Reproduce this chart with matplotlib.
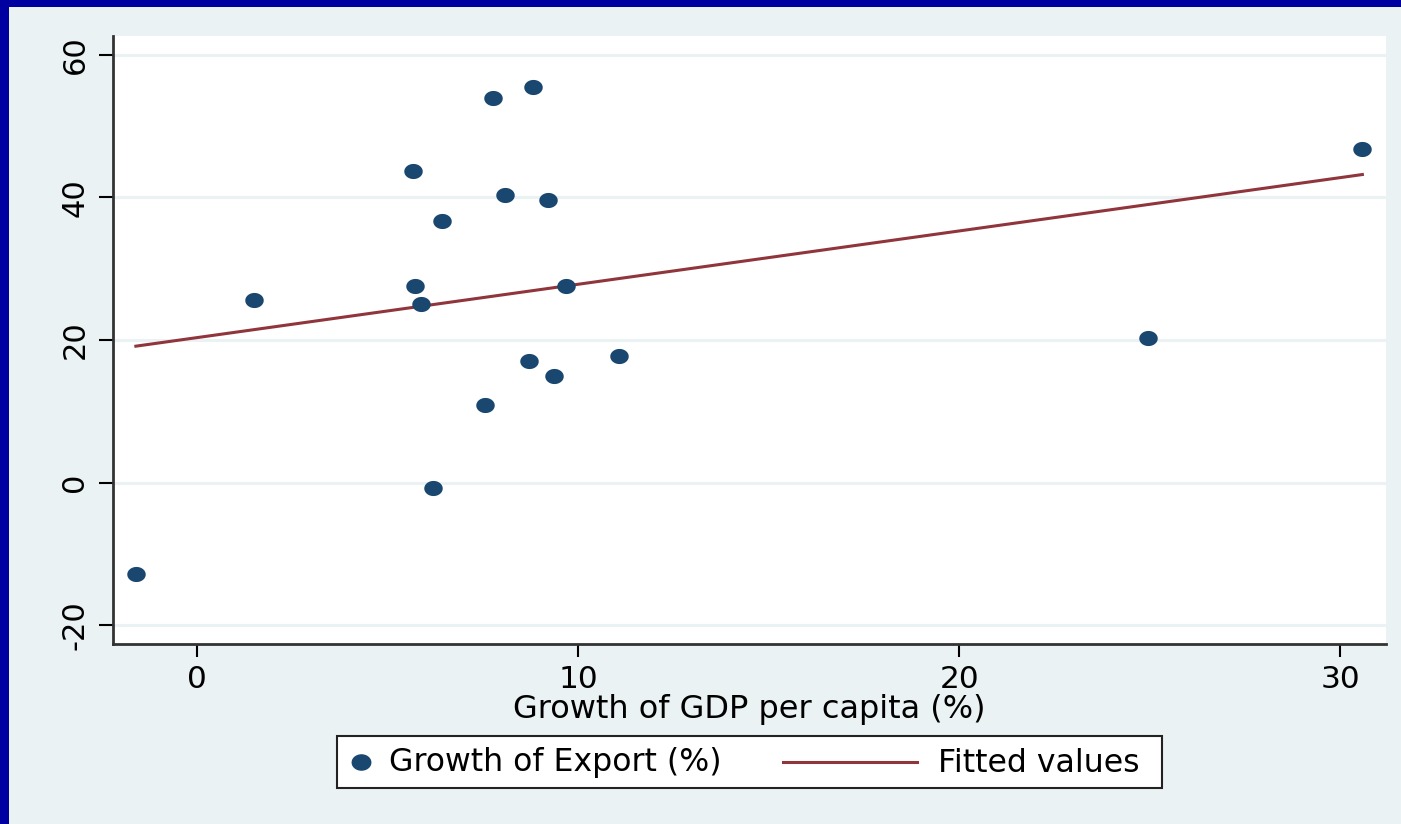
import numpy as np
import matplotlib
matplotlib.use("Agg")
import matplotlib.pyplot as plt
from matplotlib.path import Path
from matplotlib.patches import Rectangle
from matplotlib.lines import Line2D

plt.rcParams['font.family'] = ['DejaVu Sans']
plt.rcParams['axes.unicode_minus'] = False

# Growth of GDP per capita (%) vs growth of exports (%)
gdp_growth = [-1.60, 1.50, 5.67, 5.72, 5.88, 6.19, 6.43, 7.56, 7.77, 8.08,
              8.71, 8.82, 9.21, 9.37, 9.69, 11.08, 24.96, 30.58]
export_growth = [-12.75, 25.6, 43.7, 27.6, 25.1, -0.7, 36.7, 10.9, 53.9, 40.3,
                 17.1, 55.5, 39.6, 14.9, 27.5, 17.8, 20.3, 46.7]

x_ticks = [0, 10, 20, 30]
y_ticks = [-20, 0, 20, 40, 60]
x_label = "Growth of GDP per capita (%)"
series_labels = ["Growth of Export (%)", "Fitted values"]

NAVY = "#1a476f"
MAROON = "#90353b"
BG = "#eaf2f3"
FRAME = "#0000a0"

# Linear fit of exports on GDP growth
x = np.array(gdp_growth)
y = np.array(export_growth)
slope, intercept = np.polyfit(x, y, 1)
order = np.argsort(x)
fit_x = x[order]
fit_y = intercept + slope * fit_x

# Elliptical marker
t = np.linspace(0, 2 * np.pi, 64)
ellipse = Path(np.column_stack([1.22 * np.cos(t), np.sin(t)]), closed=True)

W, H = 1401, 824
fig = plt.figure(figsize=(W / 100, H / 100), dpi=100, facecolor=BG)
fig.patches.append(Rectangle((0, 1 - 7 / H), 1, 7 / H, transform=fig.transFigure,
                             facecolor=FRAME, edgecolor='none', zorder=5))
fig.patches.append(Rectangle((0, 0), 9 / W, 1, transform=fig.transFigure,
                             facecolor=FRAME, edgecolor='none', zorder=5))

left, right, top, bottom = 113, 1386, 36, 644
ax = fig.add_axes([left / W, 1 - bottom / H, (right - left) / W, (bottom - top) / H])
ax.set_facecolor("white")

ax.scatter(x, y, s=(13.3) ** 2, marker=ellipse, color=NAVY, linewidths=0, zorder=3)
ax.plot(fit_x, fit_y, color=MAROON, lw=2.2, zorder=2)

ax.set_xlim(-2.2, 31.2)
ax.set_ylim(-22.6, 62.6)
ax.set_xticks(x_ticks)
ax.set_yticks(y_ticks)
ax.yaxis.grid(True, color=BG, lw=2.2)
ax.set_axisbelow(True)

for s in ["top", "right"]:
    ax.spines[s].set_visible(False)
for s in ["left", "bottom"]:
    ax.spines[s].set_color("#333333")
    ax.spines[s].set_linewidth(2)

ax.tick_params(axis='x', colors='black', labelsize=22.5, width=1.5, length=9, pad=6)
ax.tick_params(axis='y', colors='black', labelsize=22, width=1.5, length=10, pad=7)
for lab in ax.get_yticklabels():
    lab.set_rotation(90)
    lab.set_va('center')
ax.set_xlabel(x_label, fontsize=23, labelpad=0)


def fx(px):
    return px / W


def fy(py):
    return 1 - py / H


# Legend box drawn in figure pixels
fig.patches.append(Rectangle((fx(337), fy(788)), (1162 - 337) / W, (788 - 736) / H,
                             transform=fig.transFigure, facecolor='white',
                             edgecolor='#222222', linewidth=1.5, zorder=4))
fig.add_artist(Line2D([fx(361)], [fy(762)], marker=ellipse, color=NAVY, ls='none',
                      markersize=13.3, transform=fig.transFigure, zorder=6))
fig.text(fx(389), fy(763), series_labels[0], fontsize=22.7, va='center', ha='left', zorder=6)
fig.add_artist(Line2D([fx(783), fx(917)], [fy(762), fy(762)], color=MAROON, lw=2.2,
                      transform=fig.transFigure, zorder=6))
fig.text(fx(938), fy(763), series_labels[1], fontsize=22.7, va='center', ha='left', zorder=6)

fig.savefig("out.png", dpi=100, facecolor=BG)
